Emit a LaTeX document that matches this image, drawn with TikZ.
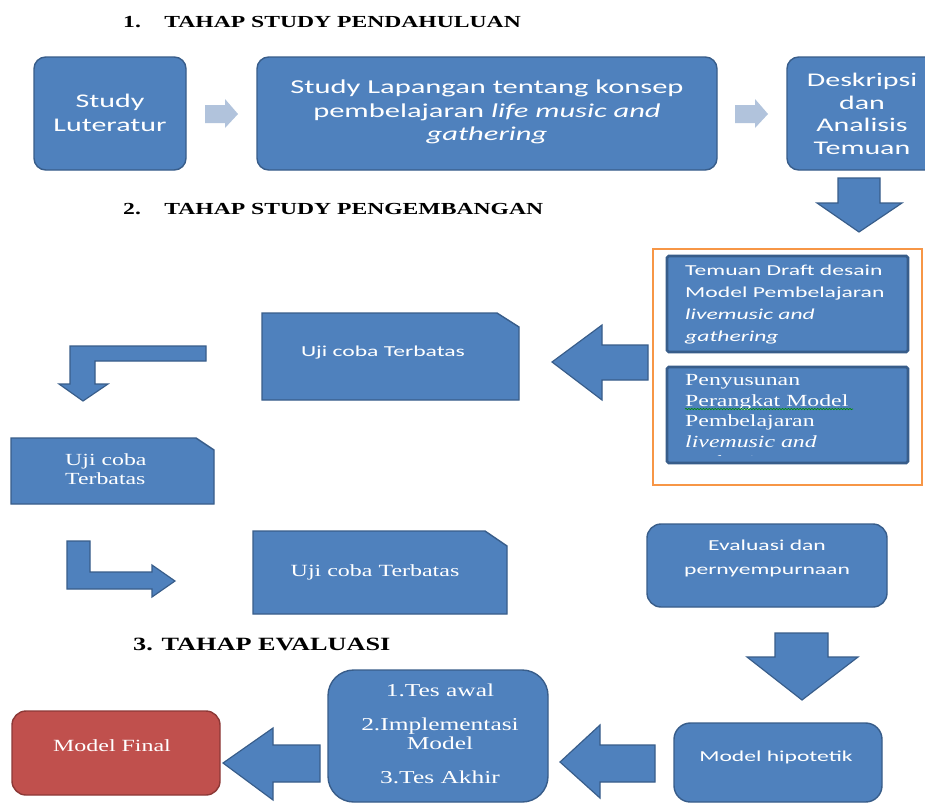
\documentclass[tikz,border=0pt]{standalone}
\usepackage{fontspec}
\setmainfont{Liberation Serif}
\newfontfamily\calib[FakeStretch=1.55]{Carlito}
\newfontfamily\tnr[FakeStretch=1.4]{Liberation Serif}
\usetikzlibrary{decorations.pathmorphing}
\definecolor{blu}{HTML}{4F81BD}
\definecolor{bludark}{HTML}{385D8A}
\definecolor{blulight}{HTML}{B1C3DC}
\definecolor{orng}{HTML}{F79646}
\definecolor{redfill}{HTML}{C0504D}
\definecolor{reddark}{HTML}{8C3836}
\begin{document}
\begin{tikzpicture}[x=0.03cm,y=-0.03cm,
  box/.style={draw=bludark,fill=blu,line width=1.2pt},
  blockarrow/.style={draw=bludark,fill=blu,line width=1pt,line join=miter},
  lightarrow/.style={fill=blulight},
  txt/.style={text=white,align=center,inner sep=0pt},
  head/.style={anchor=base west,inner sep=0pt,font=\tnr\bfseries\fontsize{14.4}{18}\selectfont}]
\clip (0,0) rectangle (925,803);
\fill[white] (0,0) rectangle (925,803);

% 1. tahap study pendahuluan
\node[head] (h1) at (123,27) {1.\hspace{20pt}TAHAP STUDY PENDAHULUAN};
\draw[box,rounded corners=10pt] (34,57) rectangle (186,170);
\node[txt,font=\calib\fontsize{16.5}{20.5}\selectfont] (lit) at (110,113) {Study\\Luteratur};
\fill[lightarrow] (205,105) -- (225,105) -- (225,99) -- (238,114) -- (225,128) -- (225,123) -- (205,123) -- cycle;
\draw[box,rounded corners=10pt] (257,57) rectangle (717,170);
\node[txt,font=\calib\fontsize{16.8}{20}\selectfont] (lap) at (487,112)
  {Study Lapangan tentang konsep\\pembelajaran \textit{life music and}\\\textit{gathering}};
\fill[lightarrow] (735,105) -- (755,105) -- (755,99) -- (768,114) -- (755,128) -- (755,123) -- (735,123) -- cycle;
\draw[box,rounded corners=10pt] (787,57) rectangle (945,170);
\node[txt,font=\calib\fontsize{16.5}{19.2}\selectfont] (desk) at (862,114) {Deskripsi\\dan\\Analisis\\Temuan};
\draw[blockarrow] (838,178) -- (880,178) -- (880,203) -- (902,203) -- (859,232) -- (817,203) -- (838,203) -- cycle;

% 2. tahap study pengembangan
\node[head] (h2) at (123,214) {2.\hspace{20pt}TAHAP STUDY PENGEMBANGAN};
\draw[orng,line width=2pt] (653,249) rectangle (922,485);
\draw[draw=bludark,fill=blu,line width=2.2pt,rounded corners=1.5pt] (667,256) rectangle (908,352);
\node[txt,align=left,anchor=west,font=\calib\fontsize{13}{18.8}\selectfont] (draft) at (685,304.5)
  {Temuan Draft desain\\Model Pembelajaran\\\textit{livemusic and}\\\textit{gathering}};
\draw[draw=bludark,fill=blu,line width=2.2pt,rounded corners=1.5pt] (667,367) rectangle (908,463);
\begin{scope}
  \clip (669,369) rectangle (906,455);
  \node[txt,align=left,anchor=west,font=\tnr\fontsize{14.5}{17.5}\selectfont] (susun) at (685,423)
    {Penyusunan\\Perangkat Model\\Pembelajaran\\\textit{livemusic and}\\\textit{gathering}};
\end{scope}
\draw[green!55!black,line width=0.6pt,decorate,decoration={snake,amplitude=0.5pt,segment length=2.5pt}] (685,409) -- (853,409);
\draw[blockarrow] (648,345) -- (602,345) -- (602,325) -- (552,362) -- (602,400) -- (602,380) -- (648,380) -- cycle;
\draw[box] (262,313) -- (497,313) -- (519,327) -- (519,400) -- (262,400) -- cycle;
\node[txt,font=\calib\fontsize{13}{16}\selectfont] (uji1) at (383,353) {Uji coba Terbatas};
\draw[blockarrow] (206,346) -- (70,346) -- (70,384) -- (59,384) -- (83,401) -- (108,384) -- (95,384) -- (95,361) -- (206,361) -- cycle;
\draw[box] (11,438) -- (196,438) -- (214,450) -- (214,504) -- (11,504) -- cycle;
\node[txt,align=left,anchor=west,font=\tnr\fontsize{14.5}{16.2}\selectfont] (uji2) at (65,469.5) {Uji coba\\Terbatas};
\draw[blockarrow] (67,541) -- (90,541) -- (90,572) -- (152,572) -- (152,565) -- (175,581) -- (152,597) -- (152,589) -- (67,589) -- cycle;
\draw[box] (253,531) -- (485,531) -- (507,546) -- (507,614) -- (253,614) -- cycle;
\node[txt,font=\tnr\fontsize{14.6}{17}\selectfont] (uji3) at (375,572) {Uji coba Terbatas};
\draw[box,rounded corners=12pt] (647,524) rectangle (887,607);
\node[txt,font=\calib\fontsize{13}{21}\selectfont] (eval) at (767,558.5) {Evaluasi dan\\pernyempurnaan};
\draw[blockarrow] (775,633) -- (828,633) -- (828,657) -- (858,657) -- (802,700) -- (747,657) -- (775,657) -- cycle;

% 3. tahap evaluasi
\node[head,font=\tnr\bfseries\fontsize{16}{19}\selectfont] (h3) at (133,650) {3. TAHAP EVALUASI};
\draw[box,rounded corners=14pt] (674,723) rectangle (882,802);
\node[txt,font=\calib\fontsize{13}{16}\selectfont] (hipo) at (776,757) {Model hipotetik};
\draw[blockarrow] (655,745) -- (600,745) -- (600,725) -- (560,762) -- (600,798) -- (600,782) -- (655,782) -- cycle;
\draw[box,rounded corners=22pt] (328,670) rectangle (548,802);
\node[txt,font=\tnr\fontsize{15.5}{16.2}\selectfont] (tes) at (440,734)
  {1.Tes awal\\[12.8pt]2.Implementasi\\Model\\[12.8pt]3.Tes Akhir};
\draw[blockarrow] (320,745) -- (273,745) -- (273,728) -- (223,763) -- (273,800) -- (273,782) -- (320,782) -- cycle;
\draw[draw=reddark,fill=redfill,line width=1.2pt,rounded corners=12pt] (12,711) rectangle (220,795);
\node[txt,font=\tnr\fontsize{14.6}{17}\selectfont] (final) at (112,746) {Model Final};
\end{tikzpicture}
\end{document}
